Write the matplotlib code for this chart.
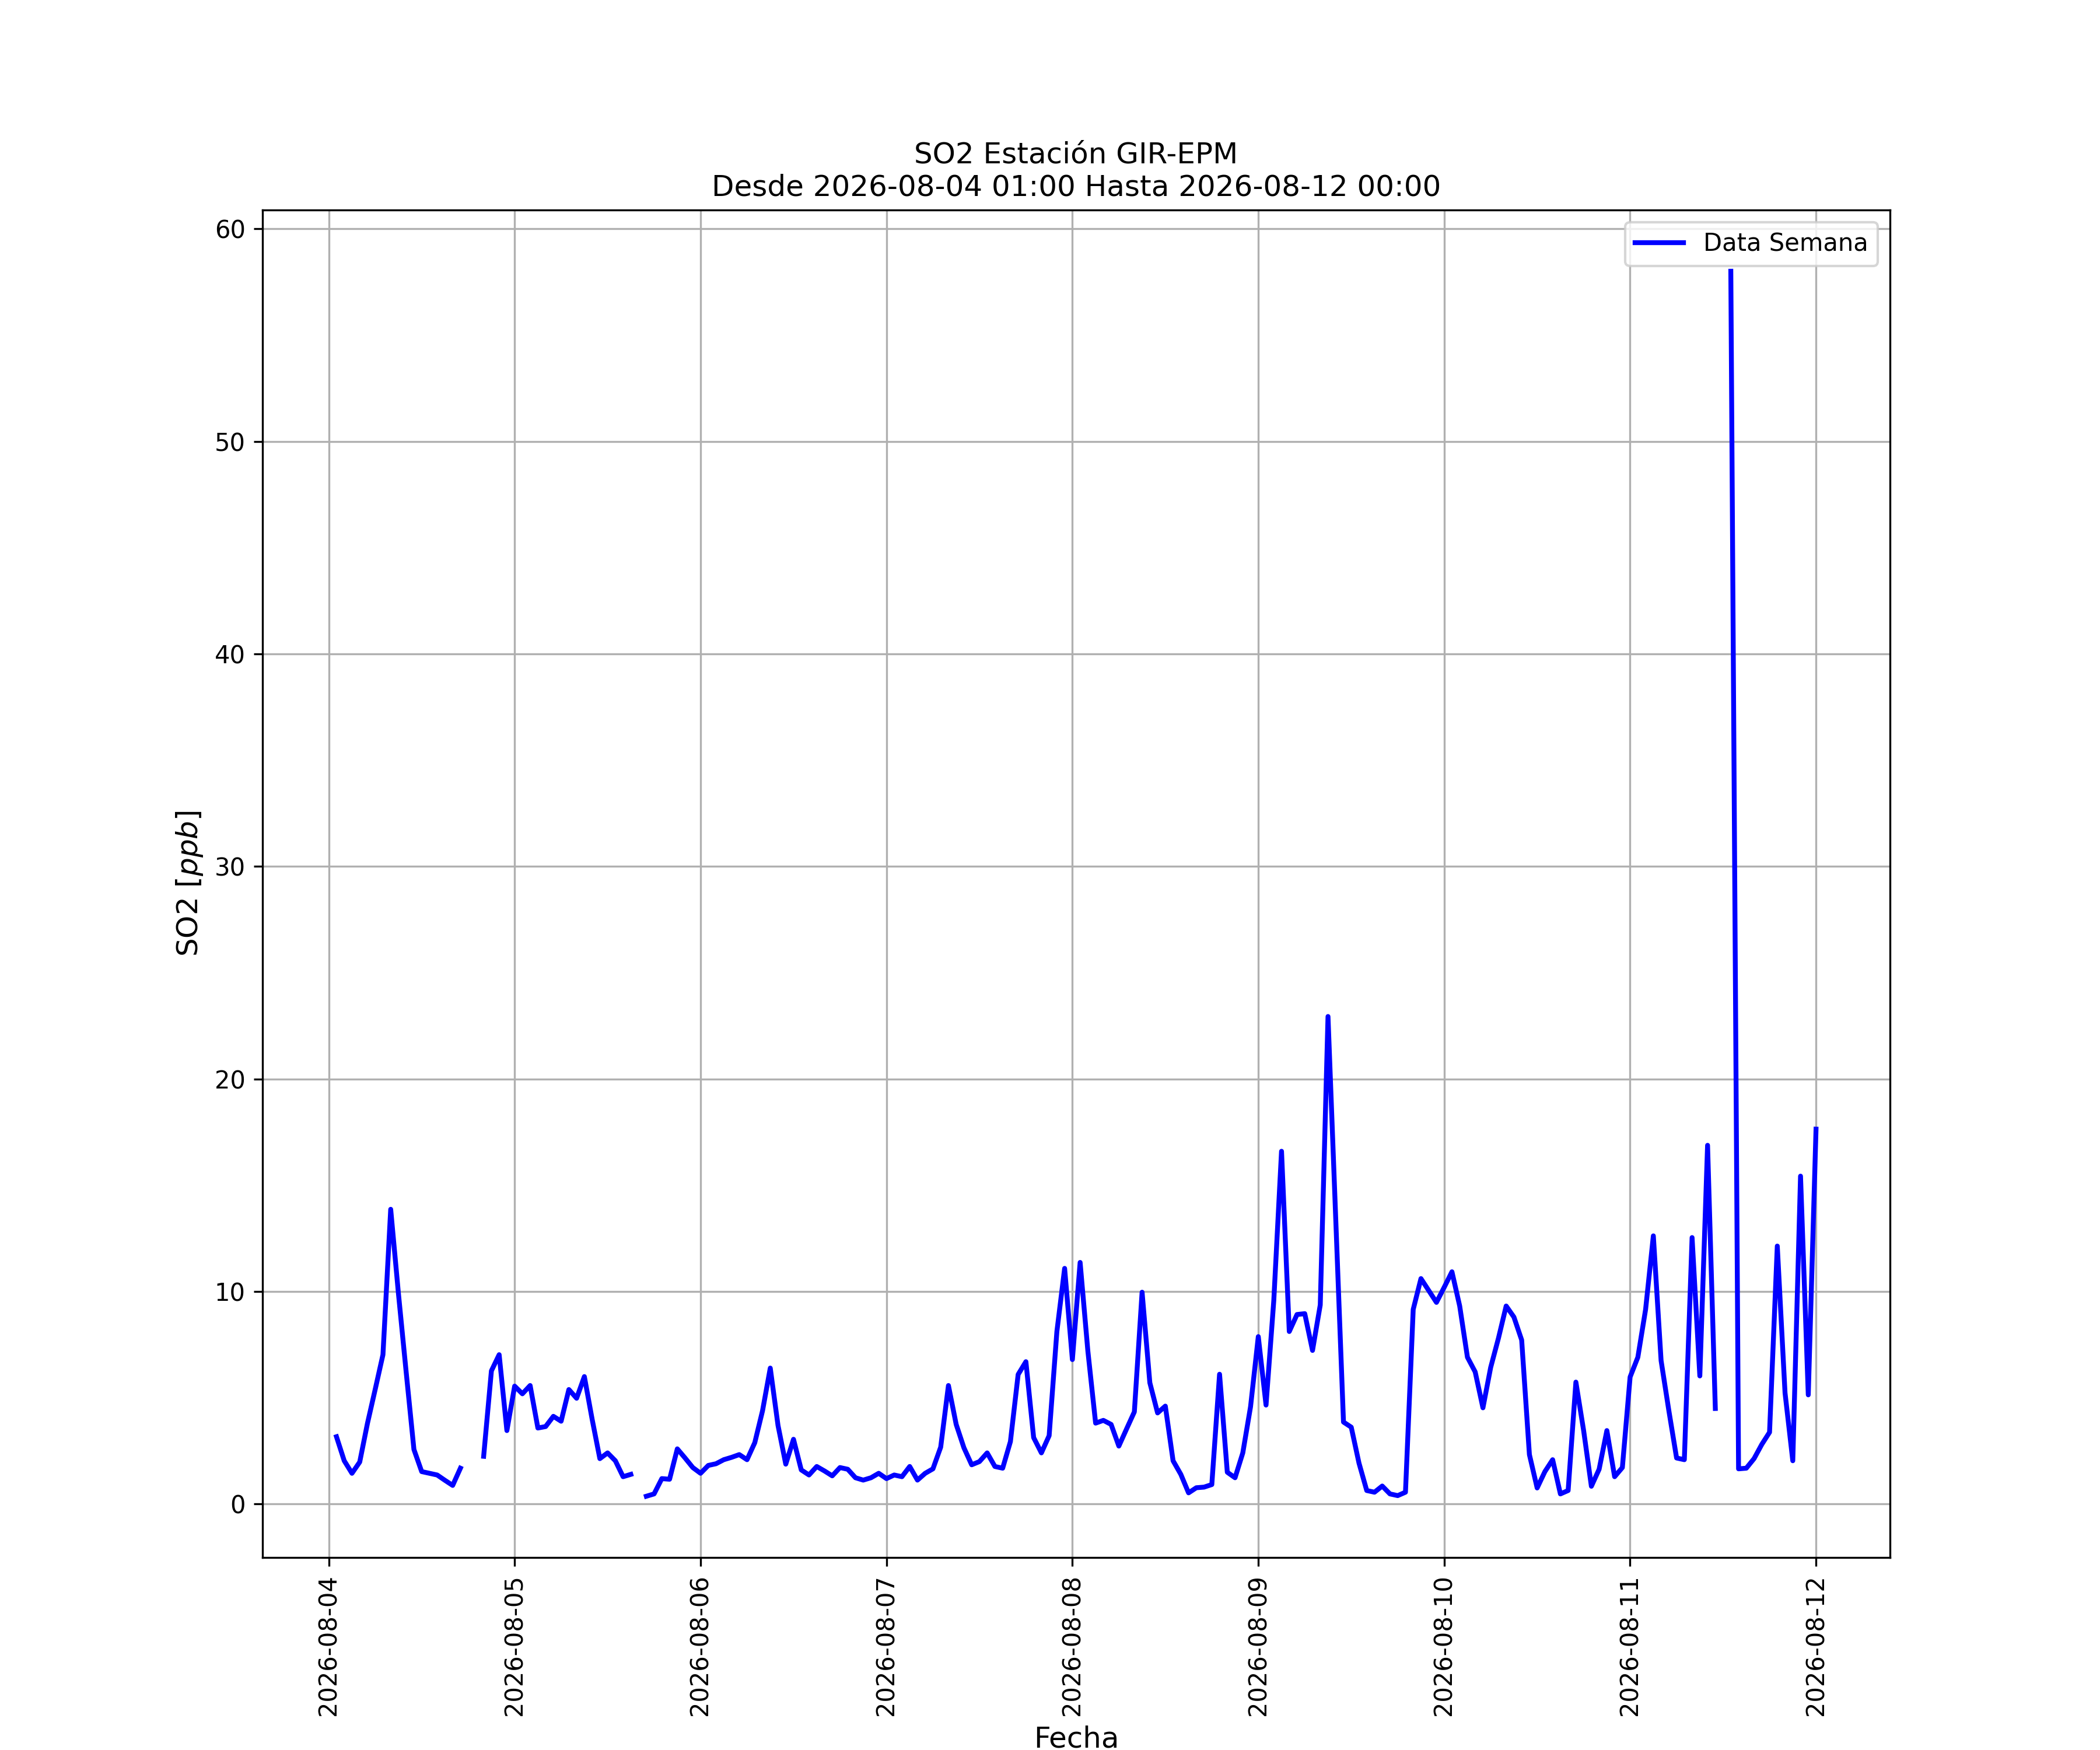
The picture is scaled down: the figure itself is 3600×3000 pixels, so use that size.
import numpy as np
import pandas as pd
import matplotlib
matplotlib.use("Agg")
import matplotlib.pyplot as plt
import matplotlib.dates as mdates

nan = np.nan
# Hourly SO2 [ppb], 2026-08-04 01:00 .. 2026-08-12 00:00 (24 values per block)
day1 = [3.17, 2.04, 1.45, 1.98, 3.8, 5.4, 7.03, 13.87, 9.9, 6.2, 2.57, 1.53,
        1.45, 1.37, 1.12, 0.88, 1.69, nan, nan, 2.25, 6.27, 7.03, 3.46, 5.55]
day2 = [5.19, 5.58, 3.58, 3.65, 4.13, 3.9, 5.39, 4.98, 6.0, 4.0, 2.14, 2.41,
        2.04, 1.29, 1.4, nan, 0.37, 0.48, 1.2, 1.17, 2.6, 2.17, 1.72, 1.45]
day3 = [1.82, 1.9, 2.09, 2.2, 2.33, 2.09, 2.89, 4.39, 6.4, 3.7, 1.88, 3.05,
        1.61, 1.37, 1.77, 1.56, 1.33, 1.72, 1.64, 1.24, 1.13, 1.24, 1.45, 1.2]
day4 = [1.37, 1.29, 1.77, 1.13, 1.45, 1.66, 2.68, 5.58, 3.75, 2.65, 1.85, 2.0,
        2.41, 1.77, 1.69, 2.94, 6.1, 6.7, 3.13, 2.41, 3.22, 8.12, 11.09, 6.8]
day5 = [11.37, 7.2, 3.81, 3.94, 3.75, 2.73, 3.54, 4.34, 9.97, 5.71, 4.29, 4.61,
        2.04, 1.4, 0.53, 0.77, 0.8, 0.92, 6.11, 1.5, 1.24, 2.41, 4.58, 7.88]
day6 = [4.66, 9.57, 16.6, 8.12, 8.92, 8.96, 7.23, 9.37, 22.94, 13.4, 3.86, 3.62,
        1.93, 0.64, 0.56, 0.85, 0.48, 0.40, 0.56, 9.16, 10.61, 10.05, 9.49, 10.2]
day7 = [10.93, 9.32, 6.91, 6.22, 4.53, 6.43, 7.8, 9.32, 8.8, 7.72, 2.33, 0.76,
        1.53, 2.09, 0.48, 0.64, 5.74, 3.46, 0.84, 1.64, 3.46, 1.29, 1.72, 5.98]
day8 = [6.91, 9.16, 12.62, 6.75, 4.4, 2.17, 2.09, 12.54, 6.03, 16.88, 4.5, nan,
        58.0, 1.66, 1.69, 2.14, 2.81, 3.38, 12.14, 5.23, 2.04, 15.43, 5.14, 17.64]

start = "2026-08-04 01:00"
end = "2026-08-12 00:00"
values = day1 + day2 + day3 + day4 + day5 + day6 + day7 + day8
times = pd.date_range(start=start, periods=len(values), freq="h")

fig, ax = plt.subplots(figsize=(12, 10), dpi=300)
ax.plot(times, values, color="blue", linewidth=2, label="Data Semana")
ax.set_title(f"SO2 Estación GIR-EPM\nDesde {start} Hasta {end}", fontsize=12)
ax.set_xlabel("Fecha", fontsize=12)
ax.set_ylabel("SO2 [$ppb$]", fontsize=12)
ax.xaxis.set_major_locator(mdates.DayLocator())
ax.xaxis.set_major_formatter(mdates.DateFormatter("%Y-%m-%d"))
plt.setp(ax.get_xticklabels(), rotation=90)
ax.grid(True)
ax.legend(loc="upper right")
fig.savefig("out.png", dpi=300)
